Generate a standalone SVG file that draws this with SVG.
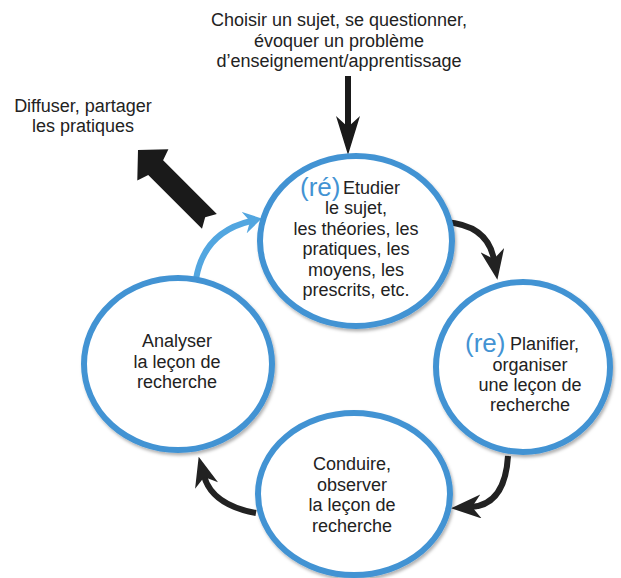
<svg xmlns="http://www.w3.org/2000/svg" width="621" height="578" viewBox="0 0 621 578">
  <style>
    .txt { font-family: "Liberation Sans", Arial, sans-serif; font-size: 18px; fill: #222; text-anchor: middle; }
    .start { text-anchor: start; }
    .re { font-family: "Liberation Sans", Arial, sans-serif; font-size: 26px; fill: #4393d3; }
    .node { fill: #fff; stroke: #4393d3; stroke-width: 6; filter: url(#shadow); }
    .curve { fill: none; stroke: #222; stroke-width: 6; }
    .bluecurve { fill: none; stroke: #52a6e0; stroke-width: 6; }
  </style>
  <defs>
    <filter id="shadow" x="-20%" y="-20%" width="140%" height="140%">
      <feDropShadow dx="1.5" dy="2.5" stdDeviation="1.8" flood-color="#000" flood-opacity="0.3"/>
    </filter>
    <marker id="headBlack" viewBox="0 0 30 24" markerWidth="30" markerHeight="24" refX="10" refY="12" orient="auto" markerUnits="userSpaceOnUse">
      <path d="M30,12 L0,0 L9,12 L0,24 Z" fill="#222"/>
    </marker>
    <marker id="headBlue" viewBox="0 0 18 22" markerWidth="18" markerHeight="22" refX="7" refY="11" orient="auto" markerUnits="userSpaceOnUse">
      <path d="M18,11 L0,0 L6,11 L0,22 Z" fill="#52a6e0"/>
    </marker>
  </defs>

  <rect width="621" height="578" fill="#fff"/>

  <!-- Connectors -->
  <g id="connectors">
    <!-- Input arrow -->
    <line x1="348" y1="76" x2="348" y2="128" stroke="#1a1a1a" stroke-width="6"/>
    <path d="M348,155 L336,116 L348,127 L360,116 Z" fill="#1a1a1a"/>
    <!-- Diffuse arrow -->
    <g transform="translate(138,150) rotate(45)">
      <path d="M0,0 L21,-22 L25,-10.5 L101,-10.5 L95,0 L101,10.5 L25,10.5 L21,22 Z" fill="#1a1a1a"/>
    </g>
    <!-- Cycle arrows -->
    <path class="curve" d="M445,222 Q488,225 494,260" marker-end="url(#headBlack)"/>
    <path class="curve" d="M508,456 Q505,505 471,507" marker-end="url(#headBlack)"/>
    <path class="curve" d="M256,513 Q212,505 204,476" marker-end="url(#headBlack)"/>
    <path class="bluecurve" d="M196,279 Q204,232 251,221" marker-end="url(#headBlue)"/>
  </g>

  <!-- External labels -->
  <g id="label-start">
    <text class="txt" x="339" y="26">Choisir un sujet, se questionner,</text>
    <text class="txt" x="339" y="46.5">évoquer un problème</text>
    <text class="txt" x="339" y="67">d’enseignement/apprentissage</text>
  </g>
  <g id="label-diffuse">
    <text class="txt" x="83" y="112">Diffuser, partager</text>
    <text class="txt" x="83" y="132">les pratiques</text>
  </g>

  <!-- Nodes -->
  <g id="node-etudier">
    <ellipse class="node" cx="356" cy="241" rx="96" ry="85"/>
    <text class="re" x="300" y="196">(ré)</text>
    <text class="txt start" x="343" y="194">Etudier</text>
    <text class="txt" x="356" y="214">le sujet,</text>
    <text class="txt" x="356" y="234.5">les théories, les</text>
    <text class="txt" x="356" y="255">pratiques, les</text>
    <text class="txt" x="356" y="275.5">moyens, les</text>
    <text class="txt" x="356" y="296">prescrits, etc.</text>
  </g>

  <g id="node-planifier">
    <ellipse class="node" cx="523" cy="367" rx="87" ry="85"/>
    <text class="re" x="465" y="352">(re)</text>
    <text class="txt start" x="510" y="350">Planifier,</text>
    <text class="txt" x="530" y="371">organiser</text>
    <text class="txt" x="530" y="391">une leçon de</text>
    <text class="txt" x="530" y="411">recherche</text>
  </g>

  <g id="node-conduire">
    <ellipse class="node" cx="354" cy="494" rx="96" ry="81"/>
    <text class="txt" x="352" y="470">Conduire,</text>
    <text class="txt" x="352" y="491">observer</text>
    <text class="txt" x="352" y="511">la leçon de</text>
    <text class="txt" x="352" y="532">recherche</text>
  </g>

  <g id="node-analyser">
    <ellipse class="node" cx="178" cy="364" rx="94" ry="86"/>
    <text class="txt" x="177" y="347">Analyser</text>
    <text class="txt" x="177" y="368">la leçon de</text>
    <text class="txt" x="177" y="388">recherche</text>
  </g>
</svg>
